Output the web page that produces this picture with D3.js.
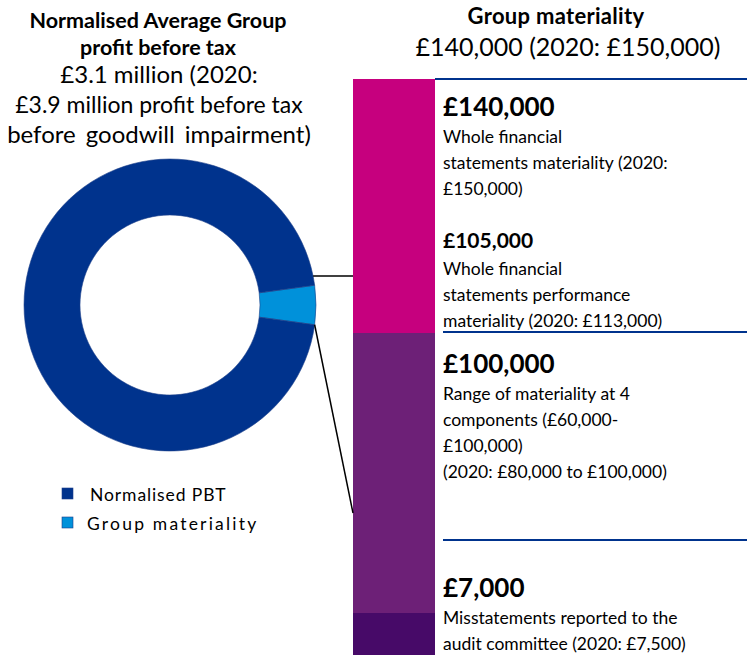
<!DOCTYPE html>
<html lang="en">
<head>
  <meta charset="UTF-8">
  <title>Group materiality</title>
  <script src="https://d3js.org/d3.v7.min.js"></script>
  <style>
    body { margin: 0; background: #ffffff; }
    svg { display: block; font-family: Lato, "Open Sans", sans-serif; }
    .bold { font-weight: bold; }
    .txt { fill: #000000; }
  </style>
</head>
<body>
  <svg id="chart"></svg>
  <script>
    // donut data
    const pieLabels = ["Group materiality", "Normalised PBT"];
    const pieValues = [140000, 3100000];

    // stacked materiality bar (top to bottom), value thresholds
    const barTiers = ["Group materiality", "Component materiality", "Reporting threshold"];
    const barTop = [140000, 100000, 7000];
    const barBottom = [100000, 7000, 0];

    // text blocks next to the bar
    const blockHeads = ["£140,000", "£105,000", "£100,000", "£7,000"];
    const blockLines = [
      ["Whole financial", "statements materiality (2020:", "£150,000)"],
      ["Whole financial", "statements performance", "materiality (2020: £113,000)"],
      ["Range of materiality at 4", "components (£60,000-", "£100,000)", "(2020: £80,000 to £100,000)"],
      ["Misstatements reported to the", "audit committee (2020: £7,500)"]
    ];

    const leftTitle = ["Normalised Average Group", "profit before tax"];
    const leftSub = ["£3.1 million (2020:", "£3.9 million profit before tax", "before goodwill impairment)"];
    const rightTitle = "Group materiality";
    const rightSub = "£140,000 (2020: £150,000)";

    const W = 747, H = 655;
    const svg = d3.select("#chart").attr("width", W).attr("height", H);

    const colors = d3.scaleOrdinal()
      .domain(pieLabels)
      .range(["#0091DA", "#00338D"]);
    const barColors = d3.scaleOrdinal()
      .domain(barTiers)
      .range(["#C6007E", "#6D2077", "#470A68"]);

    // ---- titles ----
    svg.selectAll(".lt")
      .data(leftTitle)
      .enter()
      .append("text")
      .attr("class", "txt bold")
      .attr("x", 158)
      .attr("y", (d, i) => 28 + i * 27)
      .attr("text-anchor", "middle")
      .style("font-size", "21.5px")
      .text(d => d);

    const subSize = [24, 23, 24];
    const subSpacing = [0, 0, 4];
    svg.selectAll(".ls")
      .data(leftSub)
      .enter()
      .append("text")
      .attr("class", "txt")
      .attr("x", 159)
      .attr("y", (d, i) => 83 + i * 30)
      .attr("text-anchor", "middle")
      .style("font-size", (d, i) => subSize[i] + "px")
      .style("word-spacing", (d, i) => subSpacing[i] + "px")
      .text(d => d);

    svg.append("text")
      .attr("class", "txt bold")
      .attr("x", 556).attr("y", 24)
      .attr("text-anchor", "middle")
      .style("font-size", "22px")
      .style("letter-spacing", "0.3px")
      .text(rightTitle);

    svg.append("text")
      .attr("class", "txt")
      .attr("x", 568).attr("y", 56)
      .attr("text-anchor", "middle")
      .style("font-size", "25px")
      .text(rightSub);

    // ---- donut ----
    const cx = 170, cy = 305, rOuter = 146, rInner = 90;
    const total = d3.sum(pieValues);
    const a0 = Math.PI / 2 - (pieValues[0] / total) * Math.PI;

    const pie = d3.pie()
      .sort(null)
      .startAngle(a0)
      .endAngle(a0 + 2 * Math.PI);

    const arcs = pie(pieValues);
    const arc = d3.arc().innerRadius(rInner).outerRadius(rOuter);

    const donut = svg.append("g").attr("transform", `translate(${cx},${cy})`);
    donut.selectAll("path")
      .data(arcs)
      .enter()
      .append("path")
      .attr("d", arc)
      .attr("fill", (d, i) => colors(pieLabels[i]))
      .attr("stroke", "#1d3f8a")
      .attr("stroke-width", 0.6);

    // ---- bar ----
    const barX0 = 353, barX1 = 435;
    const y = d3.scaleLinear()
      .domain([140000, 100000, 7000, 0])
      .range([79, 333, 613, 680]);

    svg.selectAll(".seg")
      .data(barTiers)
      .enter()
      .append("rect")
      .attr("class", "seg")
      .attr("x", barX0)
      .attr("width", barX1 - barX0)
      .attr("y", (d, i) => y(barTop[i]))
      .attr("height", (d, i) => y(barBottom[i]) - y(barTop[i]))
      .attr("fill", d => barColors(d));

    // connector lines from donut slice to bar
    const matArc = arcs[0];
    const yUp = 276;
    const xUp = cx + Math.sqrt(rOuter * rOuter - (yUp - cy) * (yUp - cy));
    svg.append("line")
      .attr("x1", xUp).attr("y1", yUp)
      .attr("x2", barX0).attr("y2", yUp)
      .attr("stroke", "#000").attr("stroke-width", 1.5);

    const ea = matArc.endAngle;
    svg.append("line")
      .attr("x1", cx + Math.sin(ea) * rOuter)
      .attr("y1", cy - Math.cos(ea) * rOuter)
      .attr("x2", barX0).attr("y2", 513)
      .attr("stroke", "#000").attr("stroke-width", 1.5);

    // divider lines
    const dividers = [[435, 79], [443, 332], [443, 540]];
    svg.selectAll(".div")
      .data(dividers)
      .enter()
      .append("line")
      .attr("x1", d => d[0]).attr("x2", W)
      .attr("y1", d => d[1]).attr("y2", d => d[1])
      .attr("stroke", "#00338D").attr("stroke-width", 2);

    // ---- text blocks ----
    const headY = [116, 248, 373, 597];
    const headSize = [26, 21, 26, 26];
    const tx = 443;
    blockHeads.forEach((h, i) => {
      svg.append("text")
        .attr("class", "txt bold")
        .attr("x", tx).attr("y", headY[i])
        .style("font-size", headSize[i] + "px")
        .text(h);
      svg.selectAll(".b" + i)
        .data(blockLines[i])
        .enter()
        .append("text")
        .attr("class", "txt")
        .attr("x", tx)
        .attr("y", (d, j) => headY[i] + 27 + j * 26)
        .style("font-size", "17.5px")
        .text(d => d);
    });

    // ---- legend ----
    const legend = svg.append("g").attr("transform", "translate(62,487)");
    const legendOrder = [pieLabels[1], pieLabels[0]];
    const legendSpacing = [0.9, 2.2];
    legendOrder.forEach((l, i) => {
      legend.append("rect")
        .attr("x", 0).attr("y", i * 29 + 1)
        .attr("width", 11).attr("height", 11)
        .attr("fill", colors(l))
        .attr("stroke", "#1d3f8a").attr("stroke-width", 0.6);
      legend.append("text")
        .attr("class", "txt")
        .attr("x", i === 0 ? 28 : 25).attr("y", i * 29 + 14)
        .style("font-size", "17.5px")
        .style("letter-spacing", legendSpacing[i] + "px")
        .text(l);
    });
  </script>
</body>
</html>
